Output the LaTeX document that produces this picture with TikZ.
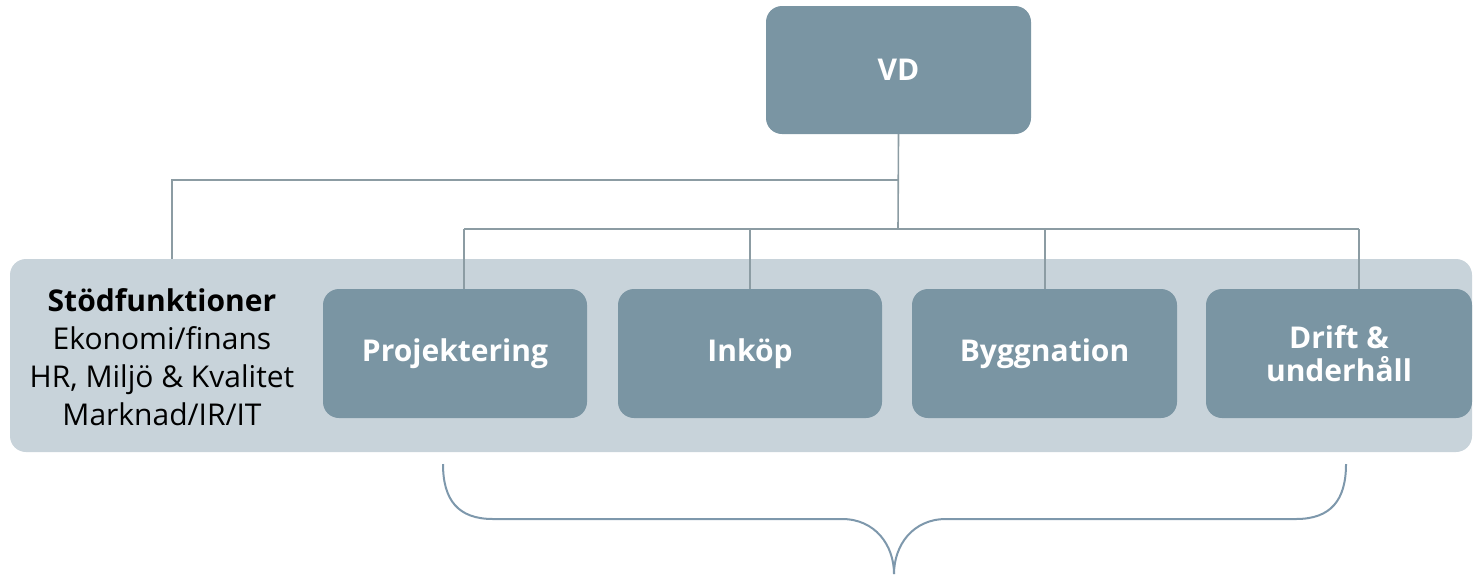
\documentclass[tikz,border=0pt]{standalone}
\usepackage{fontspec}
\setmainfont{Open Sans}
\begin{document}
\begin{tikzpicture}[x=1pt,y=-1pt,
  box/.style={fill=boxc, rounded corners=16pt, minimum width=264pt, minimum height=129pt, inner sep=0pt, text=white, font=\fontsize{30}{33}\selectfont\bfseries, align=center},
  conn/.style={draw=linec, line width=1.6pt},
  brace/.style={draw=bracec, line width=2pt}]
\definecolor{boxc}{HTML}{7A95A3}
\definecolor{bgc}{HTML}{C8D3DA}
\definecolor{linec}{HTML}{8C9CA3}
\definecolor{bracec}{HTML}{7E98AC}
\useasboundingbox (0,0) rectangle (1474,574);
\node[fill=bgc, rounded corners=16pt, minimum width=1462pt, minimum height=193pt, inner sep=0pt] (bg) at (741,355.5) {};
\node[box, minimum width=265pt, minimum height=128pt] (vd) at (898.5,70) {VD};
\node[box] (proj) at (455,353.5) {Projektering};
\node[box] (ink) at (750,353.5) {Inköp};
\node[box, minimum width=265pt] (bygg) at (1044.5,353.5) {Byggnation};
\node[box, minimum width=266pt] (drift) at (1339,353.5) {Drift \&\\underhåll};
\node[align=center, font=\fontsize{30}{38}\selectfont] (stod) at (162,357) {\textbf{Stödfunktioner}\\Ekonomi/finans\\HR, Miljö \& Kvalitet\\Marknad/IR/IT};
\coordinate (j0) at (898,180);
\coordinate (j1) at (898,229);
\coordinate (sx) at (172,180);
\coordinate (p1) at (464,229);
\coordinate (p2) at (750,229);
\coordinate (p3) at (1045,229);
\coordinate (p4) at (1359,229);
\draw[conn] (vd.south) -- (j1);
\draw[conn] (j0) -- (sx) -- (sx |- bg.north);
\draw[conn] (p1) -- (p4);
\draw[conn] (p1) -- (p1 |- proj.north);
\draw[conn] (p2) -- (p2 |- ink.north);
\draw[conn] (p3) -- (p3 |- bygg.north);
\draw[conn] (p4) -- (p4 |- drift.north);
\coordinate (bl) at (443,464);
\coordinate (br) at (1346,464);
\coordinate (bt) at (894,574);
\draw[brace] (bl) .. controls (443,500) and (458,519) .. (493,519) -- (842,519) .. controls (875,519) and (894,545) .. (bt);
\draw[brace] (br) .. controls (1346,500) and (1331,519) .. (1296,519) -- (946,519) .. controls (913,519) and (894,545) .. (bt);
\end{tikzpicture}
\end{document}
